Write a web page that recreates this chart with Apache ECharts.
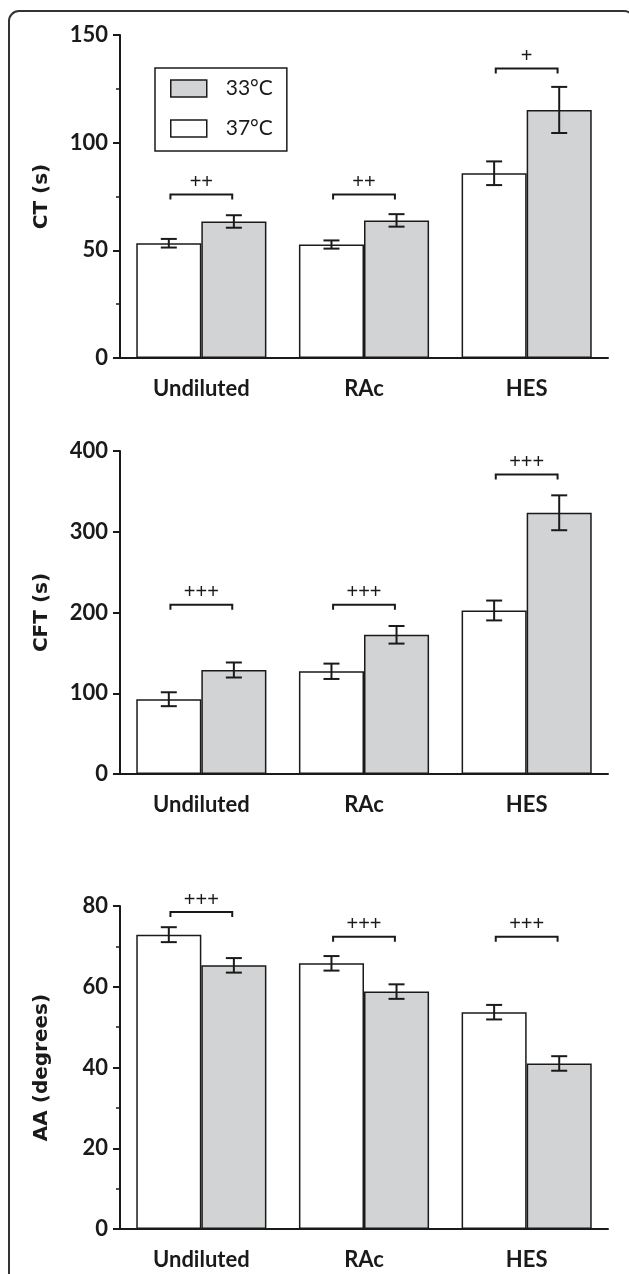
<!DOCTYPE html>
<html>
<head>
<meta charset="utf-8">
<script src="https://cdn.jsdelivr.net/npm/echarts@6/dist/echarts.min.js"></script>
<style>
  html, body { margin: 0; padding: 0; background: #fff; }
  #chart { width: 629px; height: 1274px; }
</style>
</head>
<body>
<div id="chart"></div>
<script>
// categories
const categories = ['Undiluted', 'RAc', 'HES'];

// CT (s)
const ct37 = [53.3, 52.7, 85.8];
const ct37Err = [2.0, 1.9, 5.5];
const ct33 = [63.4, 63.9, 115.2];
const ct33Err = [2.9, 2.9, 10.7];
const ctSig = ['++', '++', '+'];
const ctSigY = [75.9, 75.9, 134.5];

// CFT (s)
const cft37 = [92.6, 127.2, 202.5];
const cft37Err = [8.6, 9.5, 12.3];
const cft33 = [128.8, 172.4, 323.5];
const cft33Err = [9.3, 10.9, 21.6];
const cftSig = ['+++', '+++', '+++'];
const cftSigY = [209.5, 209.5, 371];

// AA (degrees)
const aa37 = [72.9, 65.8, 53.7];
const aa37Err = [1.85, 1.8, 1.8];
const aa33 = [65.3, 58.8, 41.0];
const aa33Err = [1.8, 1.8, 1.8];
const aaSig = ['+++', '+++', '+++'];
const aaSigY = [78.5, 72.4, 72.4];

const ink = '#1a1a1a';
const grey = '#d1d3d4';

const chart = echarts.init(document.getElementById('chart'), null, { renderer: 'canvas' });

const panels = [
  { name: 'CT (s)', max: 150, interval: 50, minor: true, w: ct37, we: ct37Err, g: ct33, ge: ct33Err, sig: ctSig, sigY: ctSigY, top: 35 },
  { name: 'CFT (s)', max: 400, interval: 100, minor: false, w: cft37, we: cft37Err, g: cft33, ge: cft33Err, sig: cftSig, sigY: cftSigY, top: 451 },
  { name: 'AA (degrees)', max: 80, interval: 20, minor: true, w: aa37, we: aa37Err, g: aa33, ge: aa33Err, sig: aaSig, sigY: aaSigY, top: 906 }
];

function errorBars(sign) {
  return function (params, api) {
    const cat = api.value(0), val = api.value(1), err = api.value(2);
    const band = api.size([1, 0])[0];
    const cx = api.coord([cat, val])[0] + sign * band * 0.2;
    const yHi = api.coord([cat, val + err])[1];
    const yLo = api.coord([cat, val - err])[1];
    const hw = 8;
    const st = { stroke: ink, lineWidth: 2 };
    return {
      type: 'group',
      children: [
        { type: 'line', shape: { x1: cx, y1: yHi, x2: cx, y2: yLo }, style: st },
        { type: 'line', shape: { x1: cx - hw, y1: yHi, x2: cx + hw, y2: yHi }, style: st },
        { type: 'line', shape: { x1: cx - hw, y1: yLo, x2: cx + hw, y2: yLo }, style: st }
      ]
    };
  };
}

function bracket(label, api) {
  const cat = api.value(0), val = api.value(1);
  const band = api.size([1, 0])[0];
  const p = api.coord([cat, val]);
  const xl = p[0] - band * 0.19, xr = p[0] + band * 0.19;
  return {
    type: 'group',
    children: [
      { type: 'polyline', shape: { points: [[xl, p[1] + 5], [xl, p[1]], [xr, p[1]], [xr, p[1] + 5]] },
        style: { stroke: ink, lineWidth: 2, fill: null } },
      { type: 'text', x: p[0], y: p[1] - 12,
        style: { text: label, align: 'center', verticalAlign: 'middle', fill: ink,
                 font: 'normal 20px "Liberation Sans"' } }
    ]
  };
}

const grids = [], xAxes = [], yAxes = [], series = [];

panels.forEach((pn, i) => {
  grids.push({ left: 120, right: 21, top: pn.top, height: 323 });
  xAxes.push({
    type: 'category', gridIndex: i, data: categories,
    axisLine: { lineStyle: { color: ink, width: 2 } },
    axisTick: { show: false },
    axisLabel: { color: ink, fontFamily: 'Lato', fontWeight: 'bold', fontSize: 22, margin: 20 }
  });
  yAxes.push({
    type: 'value', gridIndex: i, min: 0, max: pn.max, interval: pn.interval,
    name: pn.name, nameLocation: 'middle', nameGap: 68, nameRotate: 90,
    nameTextStyle: { color: ink, fontFamily: 'DejaVu Sans', fontWeight: 'bold', fontSize: 20 },
    axisLine: { show: true, lineStyle: { color: ink, width: 2 } },
    axisTick: { show: true, length: 7, lineStyle: { color: ink, width: 2 } },
    minorTick: { show: pn.minor, splitNumber: 2, length: 4, lineStyle: { color: ink, width: 1.5 } },
    splitLine: { show: false },
    axisLabel: { color: ink, fontFamily: 'Lato', fontWeight: 'bold', fontSize: 22, margin: 12 }
  });
  const barCommon = {
    type: 'bar', xAxisIndex: i, yAxisIndex: i, barGap: '0%', barCategoryGap: '20%',
    animation: false, silent: true
  };
  series.push(Object.assign({}, barCommon, {
    name: '37°C', data: pn.w,
    itemStyle: { color: '#ffffff', borderColor: ink, borderWidth: 1.5 }
  }));
  series.push(Object.assign({}, barCommon, {
    name: '33°C', data: pn.g,
    itemStyle: { color: grey, borderColor: ink, borderWidth: 1.5 }
  }));
  series.push({
    type: 'custom', xAxisIndex: i, yAxisIndex: i, silent: true, animation: false, z: 5,
    renderItem: errorBars(-1),
    data: pn.w.map((v, k) => [k, v, pn.we[k]])
  });
  series.push({
    type: 'custom', xAxisIndex: i, yAxisIndex: i, silent: true, animation: false, z: 5,
    renderItem: errorBars(1),
    data: pn.g.map((v, k) => [k, v, pn.ge[k]])
  });
  const labels = pn.sig;
  series.push({
    type: 'custom', xAxisIndex: i, yAxisIndex: i, silent: true, animation: false, z: 5,
    renderItem: function (params, api) {
      return bracket(labels[params.dataIndex], api);
    },
    data: pn.sigY.map((v, k) => [k, v])
  });
});

chart.setOption({
  backgroundColor: '#ffffff',
  animation: false,
  grid: grids,
  xAxis: xAxes,
  yAxis: yAxes,
  legend: {
    data: ['33°C', '37°C'],
    orient: 'vertical', left: 155, top: 68,
    itemWidth: 36, itemHeight: 17, itemGap: 19,
    padding: [10, 14, 12, 15],
    borderColor: ink, borderWidth: 1.5,
    icon: 'rect', selectedMode: false,
    itemStyle: { borderColor: ink, borderWidth: 1.5 },
    textStyle: { fontFamily: 'Lato', fontSize: 21, color: ink, lineHeight: 20, padding: [0, 0, 0, 14] }
  },
  graphic: [{
    type: 'rect', silent: true,
    shape: { x: 9, y: 11, width: 625, height: 1300, r: [10, 10, 0, 0] },
    style: { fill: null, stroke: '#333', lineWidth: 2 }
  }],
  series: series
});
</script>
</body>
</html>
